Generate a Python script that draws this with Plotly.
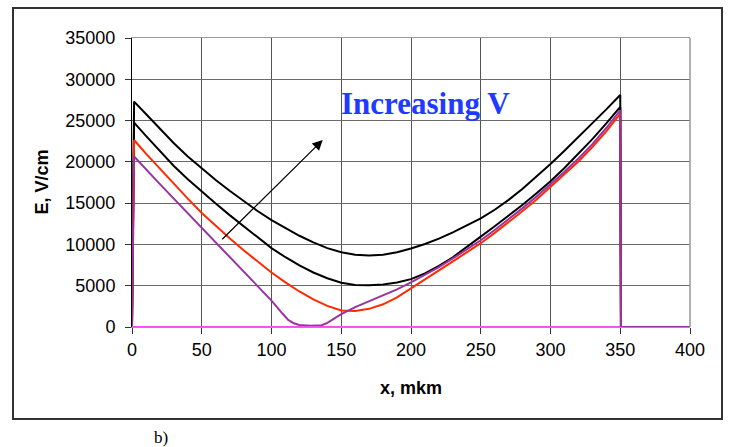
import plotly.graph_objects as go

# ---- data ----
x_common = [0, 1.5, 10, 20, 30, 40, 50, 60, 70, 80, 90, 100, 110, 120, 130, 140, 150, 160,
            170, 180, 190, 200, 210, 220, 230, 240, 250, 260, 270, 280, 290, 300, 310,
            320, 330, 340, 350, 350.5, 400]

e_black_top = [0, 27300, 25800, 24000, 22250, 20650, 19200, 17800, 16500, 15250, 14050, 12950,
               11950, 11050, 10250, 9550, 9050, 8750, 8650, 8750, 9050, 9500, 10050, 10700,
               11450, 12250, 13150, 14200, 15400, 16750, 18200, 19750, 21350, 23000, 24650,
               26350, 28100, 0, 0]

e_black_2 = [0, 24750, 23150, 21300, 19500, 17900, 16400, 14950, 13550, 12200, 10850, 9550,
             8450, 7450, 6600, 5900, 5350, 5100, 5050, 5150, 5400, 5800, 6500, 7400, 8450,
             9650, 10950, 12200, 13450, 14800, 16200, 17650, 19250, 20950, 22750, 24650,
             26650, 0, 0]

e_red = [0, 22650, 21000, 19150, 17350, 15550, 13800, 12250, 10750, 9300, 7900, 6600, 5400,
         4300, 3350, 2550, 2000, 1950, 2200, 2750, 3600, 4650, 5750, 6850, 7950, 9050, 10150,
         11400, 12700, 14050, 15450, 16950, 18450, 20050, 21800, 23700, 25850, 0, 0]

x_purple = [0, 1.5, 20, 40, 60, 80, 100, 108, 112, 116, 120, 128, 136, 140, 145, 150, 160,
            170, 180, 190, 200, 210, 220, 230, 240, 250, 260, 270, 280, 290, 300, 310, 320,
            330, 340, 350, 350.5, 400]
e_purple = [0, 20650, 17300, 13750, 10200, 6650, 3200, 1600, 850, 450, 250, 150, 220, 500,
            1000, 1550, 2400, 3100, 3800, 4550, 5400, 6300, 7250, 8300, 9400, 10500, 11750,
            13050, 14400, 15800, 17250, 18800, 20400, 22150, 24100, 26250, 0, 0]

x_magenta = [0, 350]
e_magenta = [0, 0]

x_ticks = [0, 50, 100, 150, 200, 250, 300, 350, 400]
y_ticks = [0, 5000, 10000, 15000, 20000, 25000, 30000, 35000]
y_tick_text = ["0", "5000", "10000", "15000", "20000", "25000", "30000", "35000"]

arrow_tail = (63.6, 10450)
arrow_head = (136.7, 22650)

# ---- figure ----
FONT = "Liberation Sans, Arial, sans-serif"
SERIF = "Liberation Serif, Times New Roman, serif"
fig = go.Figure()
fig.add_trace(go.Scatter(x=x_common, y=e_black_top, mode="lines",
                         line=dict(color="#000000", width=2)))
fig.add_trace(go.Scatter(x=x_common, y=e_black_2, mode="lines",
                         line=dict(color="#000000", width=2)))
fig.add_trace(go.Scatter(x=x_common, y=e_red, mode="lines",
                         line=dict(color="#FF2A00", width=2)))
fig.add_trace(go.Scatter(x=x_purple, y=e_purple, mode="lines",
                         line=dict(color="#9933A0", width=2)))
fig.add_trace(go.Scatter(x=x_magenta, y=e_magenta, mode="lines",
                         line=dict(color="#F050F0", width=2)))

fig.update_layout(
    width=730, height=447,
    margin=dict(l=132, r=40, t=38, b=120),
    paper_bgcolor="white", plot_bgcolor="white",
    showlegend=False,
    font=dict(family=FONT, size=18, color="black"),
    xaxis=dict(range=[0, 400], tickvals=x_ticks, ticks="outside", ticklen=6,
               tickcolor="#333", showgrid=True, gridcolor="#555", gridwidth=1,
               showline=True, linecolor="#999", linewidth=1, mirror=True,
               zeroline=False, fixedrange=True),
    yaxis=dict(range=[0, 35000], tickvals=y_ticks, ticktext=y_tick_text,
               ticks="outside", ticklen=6,
               tickcolor="#333", showgrid=True, gridcolor="#6a6a6a", gridwidth=1,
               showline=True, linecolor="#000", linewidth=1,
               zeroline=False, ticklabelstandoff=6, fixedrange=True),
)

# right border of plot area
fig.add_shape(type="line", xref="paper", yref="paper", x0=1, x1=1, y0=0, y1=1,
              line=dict(color="#999", width=1.5))
# outer frame
fig.add_shape(type="rect", xref="paper", yref="paper",
              x0=(13 - 132) / 558, x1=(722 - 132) / 558,
              y0=(327 - 419) / 289, y1=(327 - 8) / 289,
              line=dict(color="#333", width=2))

# axis titles
fig.add_annotation(text="<b>E, V/cm</b>", xref="paper", yref="paper",
                   x=(41 - 132) / 558, y=0.5, xanchor="center", yanchor="middle",
                   textangle=-90, showarrow=False,
                   font=dict(family=FONT, size=18))
fig.add_annotation(text="<b>x, mkm</b>", xref="paper", yref="paper",
                   x=0.5, y=(327 - 388) / 289, xanchor="center", yanchor="middle",
                   showarrow=False, font=dict(family=FONT, size=18))

# "Increasing V"
fig.add_annotation(text="<b>Increasing V</b>", xref="paper", yref="paper",
                   x=(425 - 132) / 558, y=(327 - 103) / 289,
                   xanchor="center", yanchor="middle", showarrow=False,
                   font=dict(family=SERIF, size=31, color="#1F3BFF"))

# arrow
fig.add_annotation(x=arrow_head[0], y=arrow_head[1], ax=arrow_tail[0], ay=arrow_tail[1],
                   xref="x", yref="y", axref="x", ayref="y", text="",
                   showarrow=True, arrowhead=2, arrowsize=1.7, arrowwidth=1.2,
                   arrowcolor="black")

# "b)"
fig.add_annotation(text="b)", xref="paper", yref="paper",
                   x=(161 - 132) / 558, y=(327 - 438) / 289,
                   xanchor="center", yanchor="middle", showarrow=False,
                   font=dict(family=SERIF, size=17, color="black"))

fig.write_html("out.html")
